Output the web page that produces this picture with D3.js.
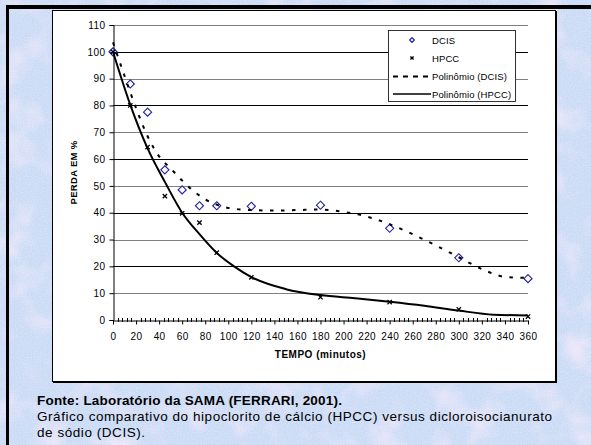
<!DOCTYPE html>
<html>
<head>
<meta charset="utf-8">
<script src="https://cdn.jsdelivr.net/npm/d3@7"></script>
<style>
  html, body { margin: 0; padding: 0; background: #fff; }
  svg { display: block; }
  text { font-family: "Liberation Sans", Arial, sans-serif; }
</style>
</head>
<body>
<svg id="chart" width="591" height="445"></svg>
<script>
// ---------------- data ----------------
const dcisTime   = [0, 15, 30, 45, 60, 75, 90, 120, 180, 240, 300, 360];
const dcisValues = [100, 88, 77.5, 56, 48.5, 42.6, 42.6, 42.4, 42.8, 34.2, 23.2, 15.4];

const hpccTime   = [0, 15, 30, 45, 60, 75, 90, 120, 180, 240, 300, 360];
const hpccValues = [100, 80, 64.5, 46.2, 39.8, 36.3, 25.1, 15.9, 8.5, 6.7, 4.0, 1.3];

// trendlines (Excel polynomial)
const dcisTrendTime   = [0, 10, 20, 30, 40, 50, 60, 70, 80, 90, 100, 120, 140, 160, 180, 200, 220, 240, 260, 280, 300, 320, 340, 360];
const dcisTrendValues = [103.5, 91, 79, 68.5, 61, 56.5, 52, 48, 45, 43, 41.8, 41, 40.8, 41, 41.2, 40.3, 38.6, 35.7, 32, 27.8, 23.4, 19, 16.1, 15.7];

const hpccTrendTime   = [0, 15, 30, 45, 60, 75, 90, 105, 120, 150, 180, 210, 240, 270, 300, 330, 360];
const hpccTrendValues = [100, 80.2, 64, 51.5, 40, 32, 25, 20, 16, 11.5, 9.3, 8.1, 6.8, 5.3, 3.5, 2, 1.7];

const xTicks = d3.range(0, 361, 20);
const yTicks = d3.range(0, 111, 10);

const legendLabels = ["DCIS", "HPCC", "Polinômio (DCIS)", "Polinômio (HPCC)"];
const yTitle = "PERDA EM %";
const xTitle = "TEMPO (minutos)";
const captionBold = "Fonte: Laboratório da SAMA (FERRARI, 2001).";
const captionLines = ["Gráfico comparativo do hipoclorito de cálcio (HPCC) versus dicloroisocianurato",
                      "de sódio (DCIS)."];

// ---------------- drawing ----------------
const svg = d3.select("#chart");
const W = 591, H = 445;

const defs = svg.append("defs");
const f = defs.append("filter").attr("id", "tex").attr("x", 0).attr("y", 0)
  .attr("width", "100%").attr("height", "100%");
f.append("feTurbulence").attr("type", "fractalNoise").attr("baseFrequency", "0.03")
  .attr("numOctaves", 3).attr("seed", 7).attr("result", "n");
f.append("feColorMatrix").attr("in", "n").attr("type", "matrix")
  .attr("values", "0 0 0 0 0.89  0 0 0 0 0.81  0 0 0 0 0.95  2.0 0 0 0 -0.95");
const g2 = defs.append("filter").attr("id", "grain").attr("x", 0).attr("y", 0)
  .attr("width", "100%").attr("height", "100%");
g2.append("feTurbulence").attr("type", "fractalNoise").attr("baseFrequency", "0.8")
  .attr("numOctaves", 1).attr("seed", 2).attr("result", "n");
g2.append("feColorMatrix").attr("in", "n").attr("type", "matrix")
  .attr("values", "0 0 0 0 0.93  0 0 0 0 0.95  0 0 0 0 1  0 0 0 0.8 -0.3");

// textured background
svg.append("rect").attr("width", W).attr("height", H).attr("fill", "#c9daf5");
svg.append("rect").attr("width", W).attr("height", H).attr("filter", "url(#tex)");
svg.append("rect").attr("width", W).attr("height", H).attr("filter", "url(#grain)");

// black frame lines (top and left)
svg.append("rect").attr("x", 6).attr("y", 5).attr("width", W - 6).attr("height", 4).attr("fill", "#000");
svg.append("rect").attr("x", 6).attr("y", 5).attr("width", 3).attr("height", H - 5).attr("fill", "#000");

// white chart box
svg.append("rect").attr("x", 52.5).attr("y", 10.5).attr("width", 503).attr("height", 371)
  .attr("fill", "#fff").attr("stroke", "#000").attr("stroke-width", 1);
svg.append("line").attr("x1", 556.5).attr("x2", 556.5).attr("y1", 11).attr("y2", 382.5)
  .attr("stroke", "#000").attr("stroke-width", 1);
svg.append("line").attr("x1", 53).attr("x2", 557).attr("y1", 382.5).attr("y2", 382.5)
  .attr("stroke", "#000").attr("stroke-width", 1);

const x = d3.scaleLinear().domain([0, 360]).range([113, 528]);
const y = d3.scaleLinear().domain([0, 110]).range([320, 25]);

// gridlines
svg.append("g").selectAll("line").data(yTicks.filter(d => d > 0)).join("line")
  .attr("x1", x(0)).attr("x2", x(360))
  .attr("y1", d => Math.round(y(d)) + 0.5).attr("y2", d => Math.round(y(d)) + 0.5)
  .attr("stroke", d => (d % 20 === 0) ? "#000" : "#808080").attr("stroke-width", 1);

// y axis
const yAxis = d3.axisLeft(y).tickValues(yTicks).tickSize(4).tickPadding(4);
const gy = svg.append("g").attr("transform", `translate(${Math.round(x(0)) + 0.5},0)`).call(yAxis);
gy.select(".domain").attr("stroke", "#000");
gy.selectAll("text").attr("font-size", 10).attr("letter-spacing", 0.4).attr("fill", "#000")
  .attr("font-family", "Liberation Sans, Arial, sans-serif");

// x axis (minor ticks, cross)
const minor = d3.range(0, 361, 4).filter(d => d % 20 !== 0);
svg.append("g").selectAll("line").data(minor).join("line")
  .attr("x1", d => Math.round(x(d)) + 0.5).attr("x2", d => Math.round(x(d)) + 0.5)
  .attr("y1", y(0) - 2).attr("y2", y(0) + 2).attr("stroke", "#000");
const xAxis = d3.axisBottom(x).tickValues(xTicks).tickSize(4).tickPadding(8).tickSizeOuter(0);
const gx = svg.append("g").attr("transform", `translate(0,${Math.round(y(0)) + 0.5})`).call(xAxis);
gx.select(".domain").attr("stroke", "#000");
gx.selectAll("text").attr("font-size", 10).attr("letter-spacing", 0.4).attr("fill", "#000")
  .attr("font-family", "Liberation Sans, Arial, sans-serif");

// axis titles
svg.append("text").attr("transform", `translate(77,${(y(0) + y(110)) / 2}) rotate(-90)`)
  .attr("text-anchor", "middle").attr("font-size", 9.5).attr("font-weight", "bold")
  .attr("letter-spacing", 0.3).text(yTitle);
svg.append("text").attr("x", (x(0) + x(360)) / 2).attr("y", 358)
  .attr("text-anchor", "middle").attr("font-size", 10).attr("font-weight", "bold")
  .attr("letter-spacing", 0.5).text(xTitle);

// markers
const diamond = d3.symbol().type(d3.symbolDiamond2).size(42);
const cross = d3.symbol().type(d3.symbolX).size(14);
const dcisPts = dcisTime.map((t, i) => [t, dcisValues[i]]);
const hpccPts = hpccTime.map((t, i) => [t, hpccValues[i]]);

svg.append("g").selectAll("path").data(dcisPts).join("path")
  .attr("transform", d => `translate(${x(d[0])},${y(d[1])})`)
  .attr("d", diamond).attr("fill", "none").attr("stroke", "#1f1fa6").attr("stroke-width", 1.1);

// trendlines
const line = d3.line().x(d => x(d[0])).y(d => y(d[1])).curve(d3.curveMonotoneX);
svg.append("path").datum(dcisTrendTime.map((t, i) => [t, dcisTrendValues[i]]))
  .attr("d", line).attr("fill", "none").attr("stroke", "#000").attr("stroke-width", 2)
  .attr("stroke-dasharray", "3.5,7.5");
svg.append("path").datum(hpccTrendTime.map((t, i) => [t, hpccTrendValues[i]]))
  .attr("d", line).attr("fill", "none").attr("stroke", "#000").attr("stroke-width", 2);

svg.append("g").selectAll("path").data(hpccPts).join("path")
  .attr("transform", d => `translate(${x(d[0])},${y(d[1])})`)
  .attr("d", cross).attr("fill", "none").attr("stroke", "#000").attr("stroke-width", 1.3);

// legend
const lg = svg.append("g");
lg.append("rect").attr("x", 388.5).attr("y", 30.5).attr("width", 127).attr("height", 71)
  .attr("fill", "#fff").attr("stroke", "#000").attr("stroke-width", 0.8);
const rowY = [40, 58, 76.5, 94];
lg.append("path").attr("transform", `translate(412,${rowY[0]})`)
  .attr("d", d3.symbol().type(d3.symbolDiamond2).size(14)).attr("fill", "none")
  .attr("stroke", "#1f1fa6").attr("stroke-width", 1.2);
lg.append("path").attr("transform", `translate(412,${rowY[1]})`)
  .attr("d", d3.symbol().type(d3.symbolX).size(8)).attr("fill", "none")
  .attr("stroke", "#000").attr("stroke-width", 1.4);
lg.append("line").attr("x1", 393).attr("x2", 431).attr("y1", rowY[2]).attr("y2", rowY[2])
  .attr("stroke", "#000").attr("stroke-width", 2).attr("stroke-dasharray", "5,5");
lg.append("line").attr("x1", 393).attr("x2", 431).attr("y1", rowY[3]).attr("y2", rowY[3])
  .attr("stroke", "#000").attr("stroke-width", 1.6);
lg.selectAll("text").data(legendLabels).join("text")
  .attr("x", 432).attr("y", (d, i) => rowY[i] + 3.5)
  .attr("font-size", 9.5).attr("letter-spacing", 0.1).text(d => d);

// caption
svg.append("text").attr("x", 37).attr("y", 405).attr("font-size", 13.5)
  .attr("letter-spacing", 0.2).attr("font-weight", "bold").text(captionBold);
svg.selectAll("text.cap").data(captionLines).join("text").attr("class", "cap")
  .attr("x", 37).attr("y", (d, i) => 421 + i * 16).attr("font-size", 13.5)
  .attr("letter-spacing", 0.55).text(d => d);
</script>
</body>
</html>
